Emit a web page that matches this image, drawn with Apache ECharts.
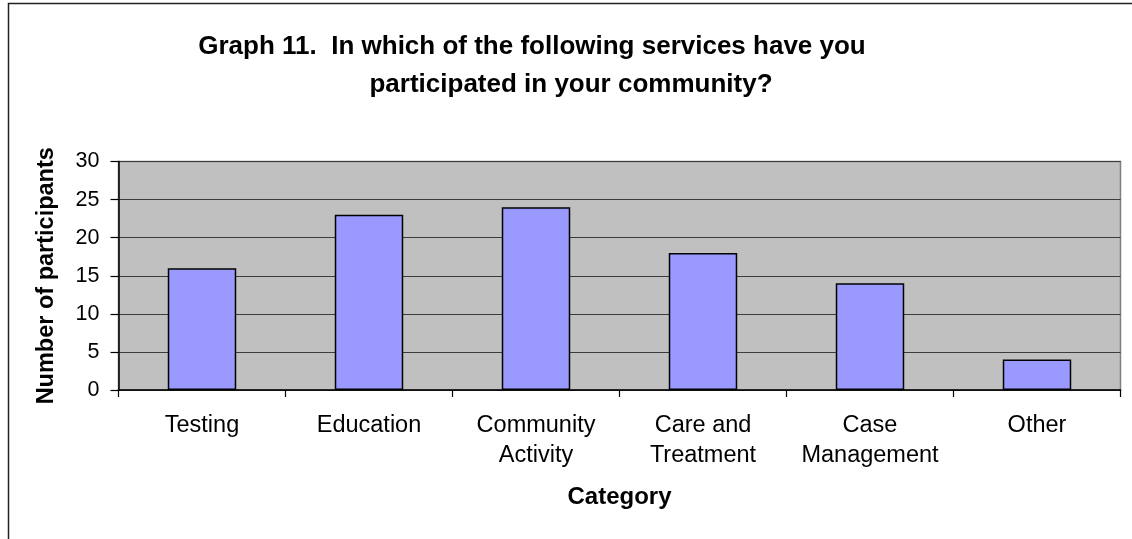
<!DOCTYPE html>
<html>
<head>
<meta charset="utf-8">
<script src="https://cdn.jsdelivr.net/npm/echarts@6/dist/echarts.min.js"></script>
<style>
  html, body { margin: 0; padding: 0; background: #ffffff; }
  #chart { width: 1132px; height: 539px; }
</style>
</head>
<body>
<div id="chart"></div>
<script>
// Survey responses: participation in community services
const titleLines = [
  'Graph 11.  In which of the following services have you',
  'participated in your community?'
];
const categories = ['Testing', 'Education', 'Community\nActivity', 'Care and\nTreatment', 'Case\nManagement', 'Other'];
const participants = [16, 23, 24, 18, 14, 4];
const yAxisTitle = 'Number of participants';
const xAxisTitle = 'Category';

const FONT = "'Liberation Sans', Arial, sans-serif";

const chart = echarts.init(document.getElementById('chart'), null, { renderer: 'canvas' });

chart.setOption({
  animation: false,
  backgroundColor: '#ffffff',
  graphic: [
    {
      type: 'rect',
      left: 6, top: 1,
      shape: { width: 1400, height: 800 },
      style: { fill: 'none', stroke: '#222222', lineWidth: 1.5 },
      silent: true
    },
    {
      type: 'text',
      x: 532, y: 47,
      style: {
        text: titleLines[0],
        font: 'bold 26px ' + FONT,
        fill: '#000000',
        align: 'center',
        verticalAlign: 'middle'
      }
    },
    {
      type: 'text',
      x: 571, y: 85,
      style: {
        text: titleLines[1],
        font: 'bold 26px ' + FONT,
        fill: '#000000',
        align: 'center',
        verticalAlign: 'middle'
      }
    }
  ],
  grid: {
    left: 118.5,
    right: 11.5,
    top: 161.5,
    bottom: 149,
    show: true,
    backgroundColor: '#c0c0c0',
    borderColor: '#808080',
    borderWidth: 1.5
  },
  xAxis: {
    type: 'category',
    data: categories,
    name: xAxisTitle,
    nameLocation: 'middle',
    nameGap: 95,
    nameTextStyle: { fontFamily: FONT, fontSize: 24, fontWeight: 'bold', color: '#000' },
    axisLine: { lineStyle: { color: '#000', width: 1.5 } },
    axisTick: { show: true, length: 7, lineStyle: { color: '#000', width: 1.2 } },
    axisLabel: {
      fontFamily: FONT, fontSize: 23.5, color: '#000',
      lineHeight: 30, margin: 21, interval: 0
    },
    splitLine: { show: false }
  },
  yAxis: {
    type: 'value',
    min: 0, max: 30, interval: 5,
    name: yAxisTitle,
    nameLocation: 'middle',
    nameGap: 60,
    nameRotate: 90,
    nameTextStyle: { fontFamily: FONT, fontSize: 23.5, fontWeight: 'bold', color: '#000' },
    axisLine: { show: true, lineStyle: { color: '#000', width: 1.5 } },
    axisTick: { show: true, length: 8, lineStyle: { color: '#000', width: 1.2 } },
    axisLabel: { fontFamily: FONT, fontSize: 21.5, color: '#000', margin: 19 },
    splitLine: { show: true, lineStyle: { color: '#3c3c3c', width: 1.2 } }
  },
  series: [{
    type: 'bar',
    data: participants,
    barWidth: '41%',
    itemStyle: { color: '#9999ff', borderColor: '#000', borderWidth: 1.5 }
  }]
});
</script>
</body>
</html>
